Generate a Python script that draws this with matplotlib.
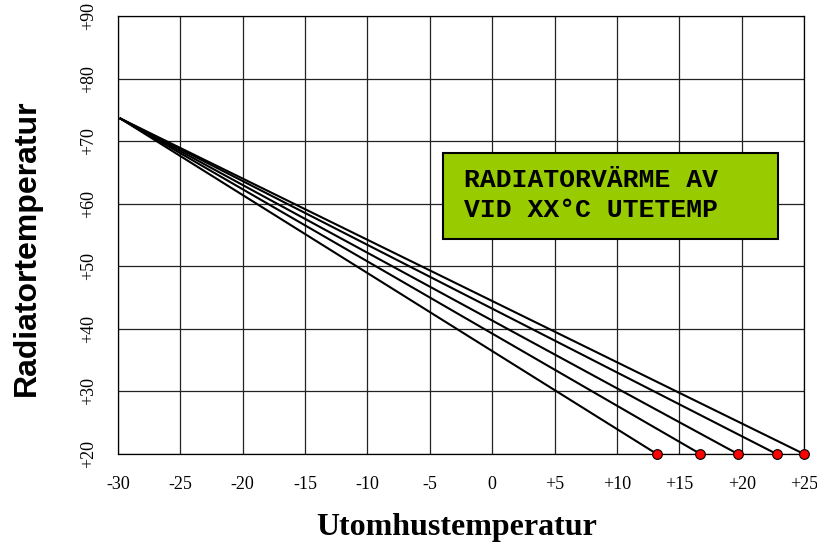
import numpy as np
import matplotlib.pyplot as plt
from matplotlib.patches import Rectangle

# kurvdata
start_x = -29.8
start_y = 73.6
end_x = [13.2, 16.7, 19.7, 22.8, 25.0]
end_y = 20

xticks = [-30, -25, -20, -15, -10, -5, 0, 5, 10, 15, 20, 25]
xticklabels = ['-30', '-25', '-20', '-15', '-10', '-5', '0', '+5', '+10', '+15', '+20', '+25']
yticks = [20, 30, 40, 50, 60, 70, 80, 90]
yticklabels = ['+20', '+30', '+40', '+50', '+60', '+70', '+80', '+90']

fig = plt.figure(figsize=(8.17, 5.49), dpi=100)
ax = fig.add_axes([118/817, 95/549, 686/817, 438/549])

ax.set_xlim(-30, 25)
ax.set_ylim(20, 90)
ax.set_xticks(xticks)
ax.set_xticklabels(xticklabels, family='Liberation Serif', fontsize=13)
ax.set_yticks(yticks)
ax.set_yticklabels(yticklabels, family='Liberation Serif', fontsize=13, rotation=90, va='center')
ax.tick_params(axis='both', length=0)
ax.tick_params(axis='x', pad=16)
ax.tick_params(axis='y', pad=15)
ax.grid(True, color='#222222', lw=0.9)
for s in ax.spines.values():
    s.set_linewidth(0.9)

for ex in end_x:
    ax.plot([start_x, ex], [start_y, end_y], color='black', lw=1.5, zorder=3)
ax.plot(end_x, [end_y]*len(end_x), 'o', color='red', mec='black', mew=0.8, ms=7,
        zorder=4, clip_on=False)

ax.add_patch(Rectangle((-3.94, 54.4), 26.84, 13.7, facecolor='#99cc00',
                       edgecolor='black', lw=1.5, zorder=5))
ax.text(-2.25, 62.67, 'RADIATORVÄRME AV', family='Liberation Mono', fontweight='bold',
        fontsize=19, va='baseline', ha='left', zorder=6)
ax.text(-2.25, 57.88, 'VID XX°C UTETEMP', family='Liberation Mono', fontweight='bold',
        fontsize=19, va='baseline', ha='left', zorder=6)

fig.text(457/817, 1 - 528/549, 'Utomhustemperatur', family='Liberation Serif',
         fontweight='bold', fontsize=23, ha='center', va='center')
fig.text(27/817, 1 - 248/549, 'Radiatortemperatur', family='Liberation Sans',
         fontweight='bold', fontsize=23, rotation=90, ha='center', va='center')

fig.savefig('out.png', dpi=100)
